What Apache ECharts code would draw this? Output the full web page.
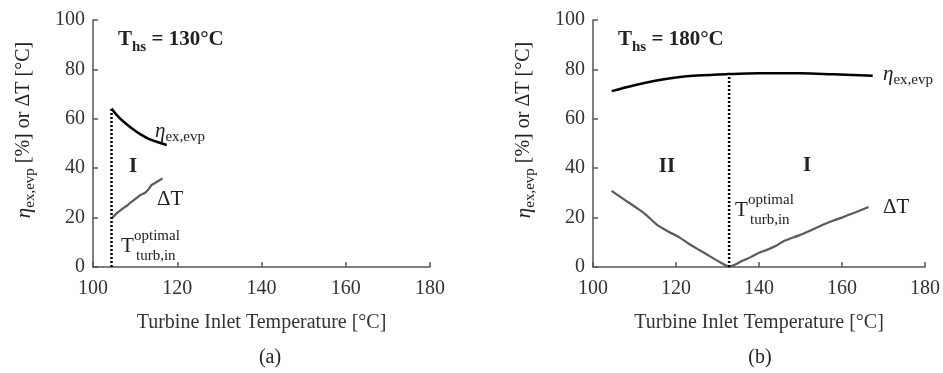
<!DOCTYPE html>
<html>
<head>
<meta charset="utf-8">
<script src="https://cdn.jsdelivr.net/npm/echarts@6/dist/echarts.min.js"></script>
<style>
html,body{margin:0;padding:0;background:#fff;}
#chart{width:943px;height:373px;}
</style>
</head>
<body>
<div id="chart"></div>
<script>
// ---- data ----
const xTicks = [100, 120, 140, 160, 180];
const yTicks = [0, 20, 40, 60, 80, 100];

// Panel (a): T_hs = 130°C
const aEtaT   = [104.4, 105.6, 107.2, 109.2, 111.2, 113.1, 115.1, 117.5];
const aEtaV   = [64.2, 61.6, 58.9, 56.2, 53.8, 52.0, 50.7, 49.4];
const aDtT    = [104.4, 105.8, 107.2, 108.2, 109.2, 110.4, 111.2, 112.4, 113.2, 113.9, 115.2, 116.5];
const aDtV    = [19.7, 22.0, 23.8, 25.0, 26.5, 28.0, 29.1, 30.1, 31.5, 33.2, 34.5, 35.9];
const aOptT   = 104.4;
const aOptTop = 64.2;

// Panel (b): T_hs = 180°C
const bEtaT   = [104.5, 110, 115, 120, 125, 132.5, 140, 150, 158, 167.4];
const bEtaV   = [71.2, 73.6, 75.4, 76.7, 77.5, 78.1, 78.4, 78.4, 78.0, 77.4];
const bDtT    = [104.5, 108, 111.3, 113, 115.3, 118, 120.9, 123, 125.7, 128, 130.5, 132.8, 134, 136, 138, 140, 141.7, 144, 146, 149.8, 152, 155, 157.8, 160, 163, 166.4];
const bDtV    = [30.8, 26.8, 23.0, 20.8, 17.3, 14.5, 11.9, 9.5, 6.8, 4.5, 2.0, 0.2, 0.8, 2.5, 4.0, 5.8, 6.8, 8.5, 10.5, 12.9, 14.5, 16.8, 18.7, 20.0, 22.0, 24.3];
const bOptT   = 132.8;
const bOptTop = 78.1;

// ---- helpers ----
const zip = (xs, ys) => xs.map((x, i) => [x, ys[i]]);
const FONT = 'Liberation Serif, Times New Roman, serif';
const AX = '#555';
const TXT = '#222';

function xAxisDef(gi) {
  return {
    type: 'value', gridIndex: gi, min: xTicks[0], max: xTicks[xTicks.length - 1], interval: 20,
    name: 'Turbine Inlet Temperature [°C]', nameLocation: 'middle', nameGap: 46,
    nameTextStyle: { fontFamily: FONT, fontSize: 20, color: '#333' },
    axisLine: { show: true, lineStyle: { color: AX, width: 1.5 } },
    axisTick: { show: true, inside: true, length: 5, lineStyle: { color: AX, width: 1.5 } },
    axisLabel: { fontFamily: FONT, fontSize: 20, color: '#333', margin: 12 },
    splitLine: { show: false }
  };
}
function yAxisDef(gi) {
  return {
    type: 'value', gridIndex: gi, min: yTicks[0], max: yTicks[yTicks.length - 1], interval: 20,
    axisLine: { show: true, lineStyle: { color: AX, width: 1.5 } },
    axisTick: { show: true, inside: true, length: 5, lineStyle: { color: AX, width: 1.5 } },
    axisLabel: { fontFamily: FONT, fontSize: 20, color: '#333', margin: 8 },
    splitLine: { show: false }
  };
}
function lineSeries(gi, data, color, width, type, smooth) {
  return {
    type: 'line', xAxisIndex: gi, yAxisIndex: gi, data: data, showSymbol: false, symbol: 'none',
    smooth: smooth || false, silent: true, animation: false,
    lineStyle: { color: color, width: width, type: type || 'solid' }
  };
}

const richBase = {
  m: { fontFamily: FONT, fontSize: 20, color: TXT },
  e: { fontFamily: FONT, fontSize: 21, fontStyle: 'italic', color: TXT },
  s: { fontFamily: FONT, fontSize: 15, color: TXT, padding: [13, 0, 0, 0] },
  tb: { fontFamily: FONT, fontSize: 21, fontWeight: 'bold', color: TXT },
  ts: { fontFamily: FONT, fontSize: 15, fontWeight: 'bold', color: TXT, padding: [15, 0, 0, 0] }
};

function txt(x, y, text, opts) {
  opts = opts || {};
  return {
    type: 'text', x: x, y: y, rotation: opts.rotation || 0, silent: true,
    style: {
      text: text, rich: richBase,
      font: (opts.weight || 'normal') + ' ' + (opts.size || 20) + 'px ' + FONT,
      fill: opts.color || TXT,
      textAlign: opts.align || 'left', textVerticalAlign: 'middle'
    }
  };
}

function panelTexts(dx, cfg) {
  return [
    txt(118 + dx, 40, '{tb|T}{ts|hs}{tb| = ' + cfg.ths + '°C}'),
    txt(cfg.etaX, cfg.etaY, '{e|η}{s|ex,evp}'),
    txt(cfg.dtX, cfg.dtY, 'ΔT', { size: 21 }),
    txt(cfg.optX, cfg.optY, 'T', { size: 21 }),
    txt(cfg.optX + 13, cfg.optY - 10, 'optimal', { size: 15 }),
    txt(cfg.optX + 15, cfg.optY + 10, 'turb,in', { size: 15 })
  ];
}

const graphics = [].concat(
  panelTexts(0, { ths: 130, etaX: 155, etaY: 131, dtX: 157, dtY: 199, optX: 121, optY: 246 }),
  panelTexts(500, { ths: 180, etaX: 883, etaY: 74, dtX: 883, dtY: 207, optX: 735, optY: 210 }),
  [
    txt(133, 167, 'I', { weight: 'bold', size: 21, align: 'center' }),
    txt(667, 167, 'II', { weight: 'bold', size: 21, align: 'center' }),
    txt(807, 166, 'I', { weight: 'bold', size: 21, align: 'center' }),
    txt(24, 130, '{e|η}{s|ex,evp}{m| [%] or ΔT [°C]}', { rotation: Math.PI / 2, align: 'center' }),
    txt(524, 130, '{e|η}{s|ex,evp}{m| [%] or ΔT [°C]}', { rotation: Math.PI / 2, align: 'center' }),
    txt(270, 358, '(a)', { size: 20, align: 'center' }),
    txt(760, 358, '(b)', { size: 20, align: 'center' })
  ]
);

const chart = echarts.init(document.getElementById('chart'), null, { renderer: 'canvas' });
chart.setOption({
  animation: false,
  backgroundColor: '#fff',
  grid: [
    { left: 93, top: 20, width: 337, height: 247 },
    { left: 593, top: 20, width: 333, height: 247 }
  ],
  xAxis: [xAxisDef(0), xAxisDef(1)],
  yAxis: [yAxisDef(0), yAxisDef(1)],
  series: [
    lineSeries(0, zip(aEtaT, aEtaV), '#000', 2.5, 'solid', 0.4),
    lineSeries(0, zip(aDtT, aDtV), '#5a5a5a', 2.2),
    lineSeries(0, [[aOptT, 0], [aOptT, aOptTop]], '#000', 2.5, [2, 2]),
    lineSeries(1, zip(bEtaT, bEtaV), '#000', 2.5, 'solid', 0.4),
    lineSeries(1, zip(bDtT, bDtV), '#5a5a5a', 2.2, 'solid', 0.2),
    lineSeries(1, [[bOptT, 0], [bOptT, bOptTop]], '#000', 2.5, [2, 2])
  ],
  graphic: graphics
});
</script>
</body>
</html>
